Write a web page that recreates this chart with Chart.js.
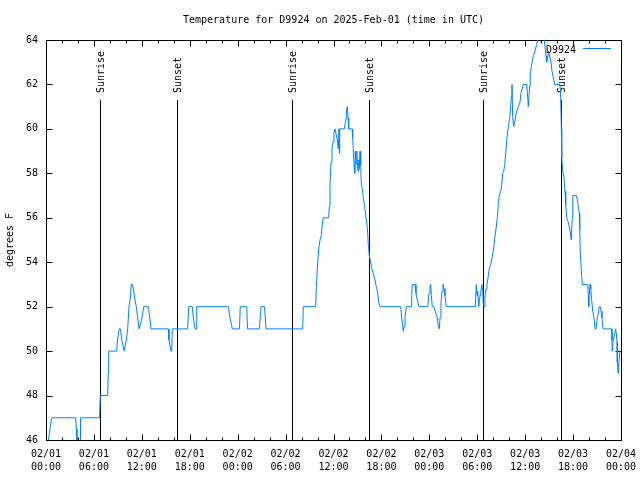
<!DOCTYPE html>
<html>
<head>
<meta charset="utf-8">
<script src="https://cdn.jsdelivr.net/npm/chart.js@4.4.1/dist/chart.umd.min.js"></script>
<style>
  html, body { margin: 0; padding: 0; background: #fff; }
</style>
</head>
<body>
<canvas id="chart" width="640" height="480"></canvas>
<script>
// temperature readings: [hours since 02/01 00:00 UTC, degrees F]
const d9924 = [
  [0.31, 46.0], [0.50, 46.5], [0.66, 46.9], [0.79, 47.0], [3.72, 47.0], [3.79, 46.5], [3.88, 46.0], [3.94, 45.0],
  [4.26, 45.0], [4.32, 47.0], [6.70, 47.0], [6.80, 48.0], [7.73, 48.0], [7.79, 49.0], [7.85, 50.0], [8.85, 50.0],
  [8.95, 50.5], [9.18, 51.0], [9.33, 51.0], [9.48, 50.5], [9.80, 50.0], [10.06, 50.5], [10.23, 51.0], [10.39, 52.0],
  [10.56, 52.4], [10.68, 53.0], [10.81, 53.0], [10.98, 52.7], [11.15, 52.3], [11.31, 52.0], [11.48, 51.5], [11.65, 51.0],
  [11.77, 51.0], [11.90, 51.3], [12.06, 51.6], [12.23, 52.0], [12.81, 52.0], [12.99, 51.5], [13.15, 51.0], [15.31, 51.0],
  [15.40, 50.5], [15.65, 50.0], [15.74, 50.0], [15.82, 51.0], [17.74, 51.0], [17.87, 52.0], [18.32, 52.0], [18.45, 51.5],
  [18.66, 51.0], [18.82, 51.0], [18.87, 52.0], [22.83, 52.0], [23.04, 51.5], [23.33, 51.0], [24.23, 51.0], [24.32, 52.0],
  [25.14, 52.0], [25.23, 51.0], [26.73, 51.0], [26.92, 52.0], [27.36, 52.0], [27.55, 51.0], [32.14, 51.0], [32.22, 52.0],
  [33.77, 52.0], [33.85, 52.9], [34.02, 54.0], [34.19, 54.7], [34.31, 55.0], [34.47, 55.2], [34.56, 55.6], [34.72, 56.0],
  [35.40, 56.0], [35.47, 56.5], [35.56, 57.5], [35.69, 58.5], [35.81, 59.1], [35.94, 59.4], [36.06, 59.8], [36.19, 60.0],
  [36.31, 60.0], [36.48, 59.5], [36.60, 59.1], [36.69, 60.0], [36.73, 58.9], [36.81, 60.0], [37.35, 60.0], [37.44, 60.2],
  [37.57, 60.5], [37.65, 60.9], [37.73, 61.0], [37.82, 60.5], [37.90, 60.0], [38.32, 60.0], [38.40, 59.6], [38.48, 59.0],
  [38.57, 58.4], [38.66, 58.0], [38.73, 59.0], [38.82, 58.4], [38.91, 59.0], [38.98, 58.5], [39.07, 58.1], [39.16, 58.6],
  [39.23, 58.2], [39.32, 59.0], [39.41, 58.4], [39.48, 57.5], [39.61, 57.3], [39.73, 56.9], [39.86, 56.6], [39.98, 56.3],
  [40.11, 55.9], [40.23, 55.6], [40.36, 54.8], [40.48, 54.3], [40.66, 54.0], [40.82, 53.7], [40.98, 53.5], [41.20, 53.2],
  [41.36, 52.9], [41.54, 52.6], [41.66, 52.2], [41.82, 52.0], [44.42, 52.0], [44.54, 51.5], [44.67, 51.1], [44.74, 50.9],
  [44.83, 51.1], [44.95, 51.5], [45.12, 52.0], [45.71, 52.0], [45.79, 52.5], [45.87, 53.0], [46.21, 53.0], [46.33, 52.6],
  [46.49, 52.3], [46.71, 52.0], [47.80, 52.0], [47.96, 52.6], [48.08, 52.9], [48.17, 53.0], [48.25, 52.5], [48.37, 52.0],
  [48.58, 52.0], [48.80, 51.7], [49.00, 51.5], [49.12, 51.1], [49.25, 51.0], [49.34, 51.5], [49.46, 52.2], [49.59, 52.7],
  [49.71, 53.0], [49.84, 52.8], [49.96, 52.5], [50.12, 52.0], [53.76, 52.0], [53.88, 53.0], [53.97, 52.5], [54.06, 52.7],
  [54.18, 52.0], [54.31, 52.4], [54.43, 52.6], [54.56, 53.0], [54.68, 52.8], [54.76, 52.1], [54.85, 52.0], [54.97, 52.5],
  [55.10, 52.8], [55.22, 53.0], [55.39, 53.4], [55.51, 53.7], [55.69, 53.9], [55.85, 54.2], [56.01, 54.5], [56.16, 55.0],
  [56.35, 55.5], [56.51, 56.0], [56.64, 56.6], [56.76, 57.0], [56.94, 57.2], [57.06, 57.5], [57.19, 58.0], [57.32, 58.1],
  [57.44, 58.4], [57.56, 58.9], [57.69, 59.5], [57.81, 59.9], [57.94, 60.2], [58.06, 60.5], [58.19, 61.0], [58.27, 61.5],
  [58.35, 62.0], [58.44, 60.5], [58.57, 60.1], [58.64, 60.2], [58.77, 60.5], [58.94, 60.8], [59.14, 61.0], [59.35, 61.2],
  [59.48, 61.6], [59.64, 61.8], [59.77, 62.0], [60.19, 62.0], [60.32, 61.4], [60.39, 61.0], [60.48, 61.5], [60.61, 62.0],
  [60.64, 62.5], [60.82, 62.9], [61.02, 63.3], [61.23, 63.5], [61.44, 63.8], [61.64, 64.1], [61.86, 64.5], [62.27, 64.5],
  [62.48, 63.7], [62.61, 63.3], [62.70, 63.0], [62.82, 63.2], [62.95, 63.5], [63.11, 63.2], [63.24, 63.0], [63.36, 62.6],
  [63.53, 62.3], [63.70, 62.0], [64.36, 62.0], [64.45, 61.4], [64.53, 60.0], [64.58, 58.7], [64.70, 58.1], [64.86, 57.8],
  [64.99, 57.2], [65.08, 56.6], [65.20, 56.0], [65.40, 55.8], [65.62, 55.4], [65.78, 55.0], [65.87, 55.9], [65.96, 57.0],
  [66.43, 57.0], [66.53, 56.8], [66.66, 56.5], [66.78, 56.2], [66.83, 55.5], [66.90, 54.5], [67.03, 53.6], [67.16, 53.0],
  [67.83, 53.0], [67.91, 52.5], [67.96, 52.0], [68.03, 52.5], [68.12, 53.0], [68.21, 52.8], [68.33, 52.3], [68.46, 51.8],
  [68.62, 51.5], [68.75, 51.0], [68.87, 51.0], [69.03, 51.5], [69.21, 51.8], [69.28, 52.0], [69.41, 52.0], [69.50, 51.8],
  [69.62, 51.5], [69.75, 51.0], [70.79, 51.0], [70.87, 50.5], [70.91, 50.0], [71.00, 50.4], [71.21, 50.8], [71.34, 51.0],
  [71.41, 50.8], [71.50, 50.4], [71.54, 49.5], [71.63, 49.0], [71.71, 49.4], [71.79, 49.7], [71.88, 50.0], [72.00, 50.0]
];

// sunrise / sunset marks, hours since 02/01 00:00 UTC
const sunHours = [6.80, 16.45, 30.84, 40.48, 54.76, 64.53];
const sunLabels = ['Sunrise', 'Sunset', 'Sunrise', 'Sunset', 'Sunrise', 'Sunset'];
const sunLineTop = 61.3;

// x tick labels, one per 6 hours
const xTickDates = ['02/01', '02/01', '02/01', '02/01', '02/02', '02/02', '02/02', '02/02', '02/03', '02/03', '02/03', '02/03', '02/04'];
const xTickTimes = ['00:00', '06:00', '12:00', '18:00', '00:00', '06:00', '12:00', '18:00', '00:00', '06:00', '12:00', '18:00', '00:00'];

const titleText = 'Temperature for D9924 on 2025-Feb-01 (time in UTC)';
const seriesName = 'D9924';
const lineColor = 'rgb(0,128,255)';

Chart.defaults.font.family = "'DejaVu Sans Mono', monospace";
Chart.defaults.font.size = 10;
Chart.defaults.color = '#000';

// gnuplot style frame, inward ticks, sun marks, title and key
const gnuplotLook = {
  id: 'gnuplotLook',
  beforeDatasetsDraw(chart) {
    const {ctx, chartArea: a, scales: {x, y}} = chart;
    const L = Math.round(a.left) + 0.5, R = Math.round(a.right) + 0.5;
    const T = Math.round(a.top) + 0.5, B = Math.round(a.bottom) + 0.5;

    ctx.save();
    ctx.strokeStyle = '#000';
    ctx.lineWidth = 1;

    ctx.beginPath();
    sunHours.forEach(h => {
      const px = Math.round(x.getPixelForValue(h)) + 0.5;
      ctx.moveTo(px, B);
      ctx.lineTo(px, Math.round(y.getPixelForValue(sunLineTop)));
    });
    ctx.stroke();

    ctx.strokeRect(L, T, R - L, B - T);

    ctx.beginPath();
    x.ticks.forEach(t => {
      const px = Math.round(x.getPixelForValue(t.value)) + 0.5;
      const len = t.value % 6 === 0 ? 6 : 3;
      ctx.moveTo(px, B); ctx.lineTo(px, B - len);
      ctx.moveTo(px, T); ctx.lineTo(px, T + len);
    });
    y.ticks.forEach(t => {
      const py = Math.round(y.getPixelForValue(t.value)) + 0.5;
      ctx.moveTo(L, py); ctx.lineTo(L + 6, py);
      ctx.moveTo(R, py); ctx.lineTo(R - 6, py);
    });
    ctx.stroke();

    ctx.fillStyle = '#000';
    ctx.font = "10px 'DejaVu Sans Mono', monospace";
    ctx.textBaseline = 'middle';
    sunHours.forEach((h, i) => {
      ctx.save();
      ctx.translate(Math.round(x.getPixelForValue(h)) + 1, y.getPixelForValue(sunLineTop) - 7);
      ctx.rotate(-Math.PI / 2);
      ctx.textAlign = 'left';
      ctx.fillText(sunLabels[i], 0, 0);
      ctx.restore();
    });

    ctx.textAlign = 'center';
    ctx.fillText(titleText, (a.left + a.right) / 2, 20);
    ctx.restore();
  },
  afterDatasetsDraw(chart) {
    const {ctx, chartArea: a} = chart;
    ctx.save();
    ctx.fillStyle = '#000';
    ctx.font = "10px 'DejaVu Sans Mono', monospace";
    ctx.textBaseline = 'middle';
    ctx.textAlign = 'right';
    ctx.fillText(seriesName, a.right - 45, a.top + 10);
    ctx.strokeStyle = lineColor;
    ctx.lineWidth = 1;
    ctx.beginPath();
    ctx.moveTo(a.right - 38, a.top + 8.5);
    ctx.lineTo(a.right - 10, a.top + 8.5);
    ctx.stroke();
    ctx.restore();
  }
};

new Chart(document.getElementById('chart'), {
  type: 'line',
  data: {
    datasets: [{
      label: seriesName,
      data: d9924.map(p => ({x: p[0], y: p[1]})),
      borderColor: lineColor,
      borderWidth: 1,
      pointRadius: 0,
      tension: 0,
      fill: false
    }]
  },
  options: {
    responsive: false,
    animation: false,
    devicePixelRatio: 1,
    layout: {padding: {left: 0, right: 19, top: 40, bottom: 0}},
    plugins: {legend: {display: false}, tooltip: {enabled: false}, title: {display: false}},
    scales: {
      x: {
        type: 'linear',
        min: 0,
        max: 72,
        grid: {display: false, drawTicks: false},
        border: {display: false},
        ticks: {
          stepSize: 2,
          autoSkip: false,
          maxRotation: 0,
          padding: 8,
          font: {lineHeight: 1.3},
          callback: v => (v % 6 === 0 ? [xTickDates[v / 6], xTickTimes[v / 6]] : '')
        },
        afterFit: s => { s.height = 40; s.paddingLeft = 0; s.paddingRight = 0; }
      },
      y: {
        type: 'linear',
        min: 46,
        max: 64,
        grid: {display: false, drawTicks: false},
        border: {display: false},
        ticks: {stepSize: 2, padding: 8},
        title: {display: true, text: 'degrees F', padding: {top: 4, bottom: 0}},
        afterFit: s => { s.width = 46; s.paddingTop = 0; s.paddingBottom = 0; }
      }
    }
  },
  plugins: [gnuplotLook]
});
</script>
</body>
</html>
